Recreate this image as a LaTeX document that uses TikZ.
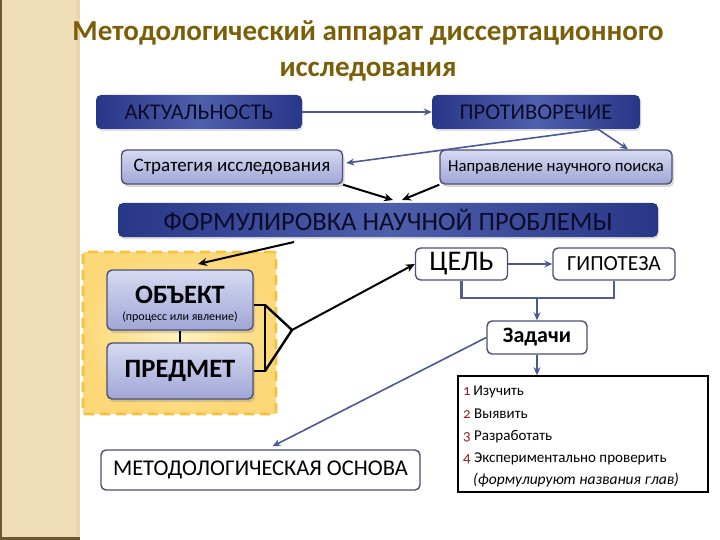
\documentclass[tikz,border=0pt]{standalone}
\usepackage{fontspec}
\setmainfont{Carlito}
\usetikzlibrary{arrows.meta,shadows,calc}
\definecolor{titlecol}{RGB}{122,94,8}
\definecolor{stripcol}{RGB}{239,222,184}
\definecolor{stripedge}{RGB}{110,88,50}
\definecolor{dbL}{RGB}{40,54,135}
\definecolor{dbM}{RGB}{78,95,172}
\definecolor{dbtext}{RGB}{12,12,40}
\definecolor{lavT}{RGB}{214,218,242}
\definecolor{lavB}{RGB}{160,166,214}
\definecolor{lavline}{RGB}{75,80,115}
\definecolor{blueline}{RGB}{74,88,150}
\definecolor{yelIn}{RGB}{255,242,190}
\definecolor{yelOut}{RGB}{252,216,120}
\definecolor{yelDash}{RGB}{246,192,64}
\definecolor{numcol}{RGB}{160,30,30}
\tikzset{
  darkbox/.style={rounded corners=5pt, left color=dbL, right color=dbL, middle color=dbM,
    text=dbtext, inner sep=0pt, drop shadow={shadow xshift=1pt, shadow yshift=-2pt, opacity=0.25}},
  lavbox/.style={rounded corners=5pt, draw=lavline, line width=1.4pt, top color=lavT, bottom color=lavB,
    text=black, inner sep=0pt, drop shadow={shadow xshift=2pt, shadow yshift=-3pt, opacity=0.3}},
  whitebox/.style={rounded corners=5pt, draw=lavline, line width=1.4pt, fill=white, text=black, inner sep=0pt},
  bluearrow/.style={draw=blueline, line width=1.6pt, -{Stealth[length=8pt,width=7pt]}},
  bluelinest/.style={draw=blueline!85!gray, line width=2.2pt},
  blackarrow/.style={draw=black, line width=2pt, -{Stealth[length=9pt,width=8pt]}},
  bracket/.style={draw=black, line width=2.4pt},
}
\begin{document}
\begin{tikzpicture}[x=1pt,y=-1pt]
\useasboundingbox (0,0) rectangle (720,540);
% left strip
\fill[stripcol] (0,0) rectangle (80,540);
\fill[stripcol!90!brown] (76,0) rectangle (80,540);
\fill[stripedge] (0,0) rectangle (2,540);
\fill[stripedge] (0,537) rectangle (80,540);
% title
\node[text=titlecol, font=\fontsize{29}{36}\selectfont\bfseries, align=center] (title) at (368,51)
  {Методологический аппарат диссертационного\\исследования};
% top boxes
\node[darkbox, minimum width=206pt, minimum height=34pt, font=\fontsize{22.5}{24}\selectfont] (akt) at (199,112) {АКТУАЛЬНОСТЬ};
\node[darkbox, minimum width=208pt, minimum height=34pt, font=\fontsize{22.5}{24}\selectfont] (prot) at (536,112) {ПРОТИВОРЕЧИЕ};
\draw[bluearrow] (akt.east) -- (prot.west);
\node[lavbox, minimum width=221pt, minimum height=34pt, font=\fontsize{19}{22}\selectfont] (strat) at (232,167) {Стратегия исследования};
\node[lavbox, minimum width=232pt, minimum height=34pt, font=\fontsize{16.7}{19}\selectfont] (napr) at (556,167) {Направление научного поиска};
\coordinate (ps) at ($(prot.south)+(62,0)$);
\draw[bluearrow] (ps) -- ($(napr.north)+(72,0)$);
\draw[bluearrow] (ps) -- ($(strat.east)+(3,-4)$);
\node[darkbox, minimum width=540pt, minimum height=34pt, font=\fontsize{26.5}{28}\selectfont] (form) at (388,220) {ФОРМУЛИРОВКА НАУЧНОЙ ПРОБЛЕМЫ};
\coordinate (fa) at (393,200);
\coordinate (fb) at (402,200);
\draw[blackarrow] (strat.south east) -- (fa);
\draw[blackarrow] (napr.south west) -- (fb);
% yellow area
\node[rounded corners=2pt, inner sep=0pt, minimum width=193pt, minimum height=162pt, inner color=yelIn, outer color=yelOut,
  draw=yelDash, line width=2.6pt, dash pattern=on 10pt off 6pt] (yb) at (179.5,333) {};
\node[lavbox, minimum width=146pt, minimum height=60pt] (obj) at (180,300) {};
\node[anchor=base, inner sep=0pt, font=\fontsize{26.5}{26}\selectfont\bfseries] (objt) at (180,303) {ОБЪЕКТ};
\node[anchor=base, inner sep=0pt, font=\fontsize{12}{12}\selectfont] (objs) at (180,320) {(процесс или явление)};
\node[lavbox, minimum width=146pt, minimum height=56pt, font=\fontsize{26.5}{28}\selectfont\bfseries] (pred) at (180,371) {ПРЕДМЕТ};
\draw[black, line width=1.6pt] (obj.south) -- (pred.north);
\coordinate (fs) at (294,242);
\coordinate (ye) at (198,264);
\draw[blackarrow] (fs) -- (ye);
% bracket
\coordinate (bt) at (265,305);
\coordinate (bb) at (265,371);
\coordinate (bp) at (292,330);
\draw[bracket] (obj.east |- bt) -- (bt) -- (bb) -- (pred.east);
\draw[bracket] (bt) -- (bp) -- (bb);
% right side
\node[whitebox, minimum width=92pt, minimum height=32pt, font=\fontsize{28.5}{30}\selectfont] (cel) at (461.5,264) {ЦЕЛЬ};
\node[whitebox, minimum width=122pt, minimum height=32pt, font=\fontsize{21.5}{24}\selectfont] (gip) at (614,264) {ГИПОТЕЗА};
\draw[blackarrow] (bp) -- (cel.west);
\draw[bluearrow] (cel.east) -- (gip.west);
\draw[bluelinest] (cel.south) -- ++(0,17) coordinate (cj) -| (gip.south);
\node[whitebox, minimum width=100pt, minimum height=33pt, font=\fontsize{22}{24}\selectfont\bfseries] (zad) at (537,337.5) {Задачи};
\draw[bluearrow] (cj -| zad.north) -- (zad.north);
\node[draw=black, line width=1.6pt, minimum width=250pt, minimum height=116pt, inner sep=0pt] (list) at (583,434) {};
\node[anchor=north west, align=left, inner sep=0pt, font=\fontsize{15}{22.2}\selectfont] (listtext) at (463,386)
  {{\color{numcol}\addfontfeature{Numbers=OldStyle}1}\,Изучить\\
   {\color{numcol}\addfontfeature{Numbers=OldStyle}2} Выявить\\
   {\color{numcol}\addfontfeature{Numbers=OldStyle}3} Разработать\\
   {\color{numcol}\addfontfeature{Numbers=OldStyle}4} Экспериментально проверить\\
   \hspace*{10pt}{\itshape\fontsize{15.5}{22}\selectfont (формулируют названия глав)}};
\draw[bluearrow] (zad.south) -- (list.north -| zad.south);
\node[whitebox, minimum width=319pt, minimum height=40pt, font=\fontsize{22.5}{24}\selectfont] (metod) at (260.5,470) {МЕТОДОЛОГИЧЕСКАЯ ОСНОВА};
\draw[bluearrow] (zad.west) -- ($(metod.north)+(12,-3)$);
\end{tikzpicture}
\end{document}
